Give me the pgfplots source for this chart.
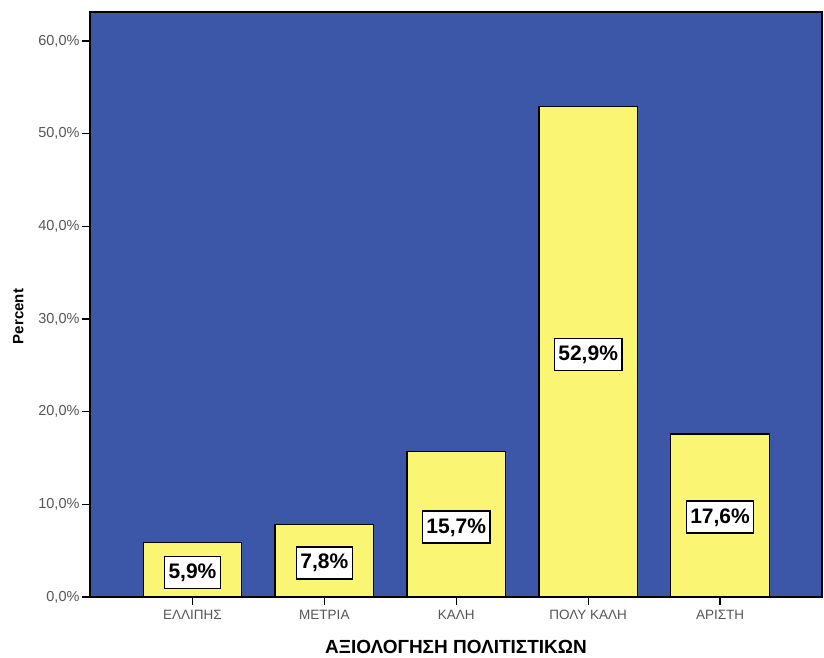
\documentclass[border=0pt]{standalone}
\usepackage{pgfplots}
\pgfplotsset{compat=1.18}
\usepackage{fontspec}
\setmainfont{Liberation Sans}
\definecolor{bgblue}{RGB}{60,87,167}
\definecolor{baryellow}{RGB}{250,246,115}
\definecolor{tickgray}{RGB}{85,85,85}
\begin{document}
\begin{tikzpicture}
\path[use as bounding box] (-90bp,-61bp) rectangle (734bp,597bp);
\begin{axis}[
  at={(0,0)}, anchor=south west,
  scale only axis,
  width=732bp, height=585bp,
  xmin=-0.777, xmax=4.773,
  ymin=0, ymax=63.13,
  axis background/.style={fill=bgblue},
  axis line style={black, line width=1.3bp},
  xtick={0,1,2,3,4},
  xticklabels={ΕΛΛΙΠΗΣ, ΜΕΤΡΙΑ, ΚΑΛΗ, ΠΟΛΥ ΚΑΛΗ, ΑΡΙΣΤΗ},
  ytick={0,10,20,30,40,50,60},
  yticklabels={{0,0\%},{10,0\%},{20,0\%},{30,0\%},{40,0\%},{50,0\%},{60,0\%}},
  tick align=outside,
  xtick pos=left, ytick pos=left,
  major tick length=8bp,
  tick style={black, line width=1.2bp},
  ticklabel style={text=tickgray},
  xticklabel style={font=\fontsize{13.5bp}{15bp}\selectfont, yshift=-2bp},
  yticklabel style={font=\fontsize{14.5bp}{16bp}\selectfont, xshift=1bp},
  xlabel={ΑΞΙΟΛΟΓΗΣΗ ΠΟΛΙΤΙΣΤΙΚΩΝ},
  xlabel style={font=\bfseries\fontsize{19bp}{21bp}\selectfont, yshift=-13bp},
  ylabel={Percent},
  ylabel style={font=\bfseries\fontsize{15bp}{17bp}\selectfont, yshift=8bp, xshift=-12bp},
  clip=false,
]
\addplot[ybar, bar width=98.5bp, bar shift=0pt, fill=baryellow, draw=black, line width=1.3bp]
  coordinates {(0,5.9) (1,7.8) (2,15.7) (3,52.9) (4,17.6)};
\addplot[draw=none, nodes near coords, point meta=explicit symbolic,
  nodes near coords style={anchor=center, fill=white, draw=black, line width=1.3bp,
    font=\bfseries\fontsize{21bp}{23bp}\selectfont, text=black,
    inner xsep=4bp, inner ysep=7bp, text height=15bp, text depth=3bp}]
  coordinates {(0,2.64)[5,9\%] (1,3.67)[7,8\%] (2,7.55)[15,7\%] (3,26.2)[52,9\%] (4,8.63)[17,6\%]};
\end{axis}
\end{tikzpicture}
\end{document}
